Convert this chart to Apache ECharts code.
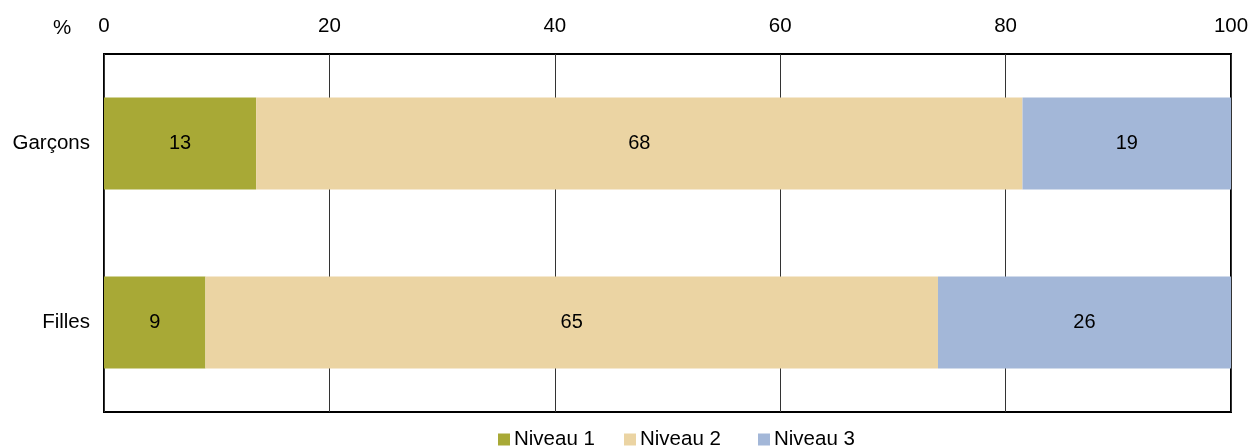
<!DOCTYPE html>
<html>
<head>
<meta charset="utf-8">
<script src="https://cdn.jsdelivr.net/npm/echarts@6/dist/echarts.min.js"></script>
<style>
  html, body { margin: 0; padding: 0; background: #fff; }
  #chart { width: 1255px; height: 447px; }
</style>
</head>
<body>
<div id="chart"></div>
<script>
// Data
const categories = ['Garçons', 'Filles']
const levels = ['Niveau 1', 'Niveau 2', 'Niveau 3']
const niveau1 = [13.5, 9]
const niveau2 = [68, 65]
const niveau3 = [18.5, 26]
// Printed labels (rounded as in the source)
const labels1 = ['13', '9']
const labels2 = ['68', '65']
const labels3 = ['19', '26']

const colors = ['#a8a936', '#ebd4a3', '#a3b7d8']
const font = 'Liberation Sans, Arial, sans-serif'
// legend items are not evenly spaced in the source
const legendLeft = [493, 619, 753]

const chart = echarts.init(document.getElementById('chart'))

const makeSeries = (name, values, labels, color) => ({
  name,
  type: 'bar',
  stack: 'total',
  barWidth: '51.5%',
  data: values,
  itemStyle: { color },
  label: {
    show: true,
    position: 'inside',
    color: '#000',
    fontFamily: font,
    fontSize: 20,
    formatter: (p) => labels[p.dataIndex]
  },
  emphasis: { disabled: true }
})

chart.setOption({
  animation: false,
  textStyle: { fontFamily: font },
  grid: {
    left: 104,
    right: 24,
    top: 54,
    bottom: 35,
    show: true,
    borderColor: '#000',
    borderWidth: 2,
    backgroundColor: 'transparent'
  },
  legend: levels.map((name, i) => ({
    data: [name],
    top: 424,
    left: legendLeft[i],
    icon: 'rect',
    itemWidth: 12,
    itemHeight: 12,
    textStyle: { fontSize: 20.5, color: '#000', padding: [0, 0, 0, -1] }
  })),
  graphic: [
    {
      type: 'text',
      left: 53,
      top: 18,
      style: { text: '%', fontSize: 20.5, fill: '#000', fontFamily: font }
    }
  ],
  xAxis: {
    type: 'value',
    position: 'top',
    min: 0,
    max: 100,
    interval: 20,
    axisLine: { show: false },
    axisTick: { show: false },
    axisLabel: { color: '#000', fontSize: 20.5, margin: 17 },
    splitLine: { show: true, lineStyle: { color: '#333', width: 1 } }
  },
  yAxis: {
    type: 'category',
    inverse: true,
    data: categories,
    axisLine: { show: false },
    axisTick: { show: false },
    axisLabel: { color: '#000', fontSize: 20.5, margin: 14 }
  },
  series: [
    makeSeries(levels[0], niveau1, labels1, colors[0]),
    makeSeries(levels[1], niveau2, labels2, colors[1]),
    makeSeries(levels[2], niveau3, labels3, colors[2])
  ]
})
</script>
</body>
</html>
